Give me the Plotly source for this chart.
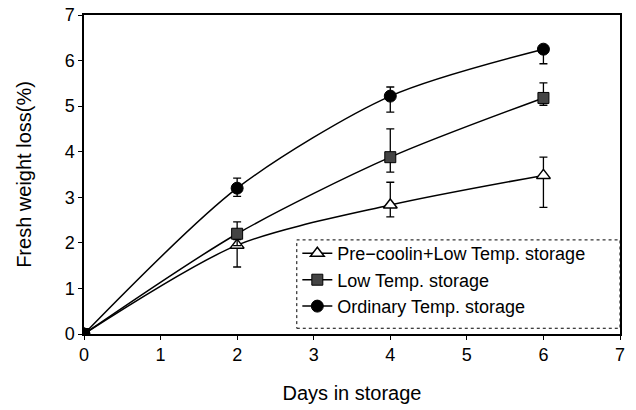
import plotly.graph_objects as go

days = [0, 2, 4, 6]
pre_cool = [0, 1.95, 2.83, 3.48]
pre_cool_up = [0, 0.12, 0.5, 0.4]
pre_cool_dn = [0, 0.48, 0.26, 0.7]
low_temp = [0, 2.2, 3.88, 5.18]
low_temp_up = [0, 0.26, 0.62, 0.33]
low_temp_dn = [0, 0.26, 0.33, 0.16]
ordinary = [0, 3.2, 5.22, 6.25]
ordinary_up = [0, 0.22, 0.2, 0.08]
ordinary_dn = [0, 0.18, 0.35, 0.32]
names = ["Pre\u2212coolin+Low Temp. storage", "Low Temp. storage", "Ordinary Temp. storage"]

fig = go.Figure()
series = [
    (pre_cool, pre_cool_up, pre_cool_dn, dict(symbol="triangle-up", size=12, color="white", line=dict(color="black", width=1.5))),
    (low_temp, low_temp_up, low_temp_dn, dict(symbol="square", size=11, color="#444444", line=dict(color="black", width=1))),
    (ordinary, ordinary_up, ordinary_dn, dict(symbol="circle", size=12, color="black", line=dict(color="black", width=1))),
]
for i, (ys, up, dn, mk) in enumerate(series):
    fig.add_trace(go.Scatter(
        x=days, y=ys, name=names[i], mode="lines+markers",
        line=dict(color="black", width=1.5, shape="spline", smoothing=0.8),
        marker=mk,
        error_y=dict(type="data", array=up, arrayminus=dn, color="black", thickness=1.3, width=4),
    ))

fig.add_shape(type="rect", xref="paper", yref="paper", x0=0.397, x1=1.0, y0=0.018, y1=0.295,
              line=dict(color="black", width=1, dash="dot"), fillcolor="white", layer="below")

fig.update_layout(
    width=636, height=410,
    margin=dict(l=84, r=16, t=15, b=76),
    paper_bgcolor="white", plot_bgcolor="white",
    font=dict(family="Liberation Sans, Arial, sans-serif", color="black", size=17),
    showlegend=True,
    legend=dict(x=0.398, y=0.31, xanchor="left", yanchor="top", bgcolor="rgba(0,0,0,0)",
                font=dict(size=18), itemwidth=30, tracegroupgap=0),
    xaxis=dict(range=[0, 7], dtick=1, tick0=0, showgrid=False, zeroline=False,
               showline=True, linecolor="black", linewidth=1.5, mirror=True,
               ticks="outside", ticklen=4, tickcolor="black", automargin=False,
               tickfont=dict(size=18),
               title=dict(text="Days in storage", font=dict(size=20), standoff=22)),
    yaxis=dict(range=[0, 7], dtick=1, tick0=0, showgrid=False, zeroline=False,
               showline=True, linecolor="black", linewidth=1.5, mirror=True,
               ticks="outside", ticklen=4, tickcolor="black", automargin=False,
               tickfont=dict(size=18),
               title=dict(text="Fresh weight loss(%)", font=dict(size=20), standoff=28)),
)

fig.write_html("out.html")
